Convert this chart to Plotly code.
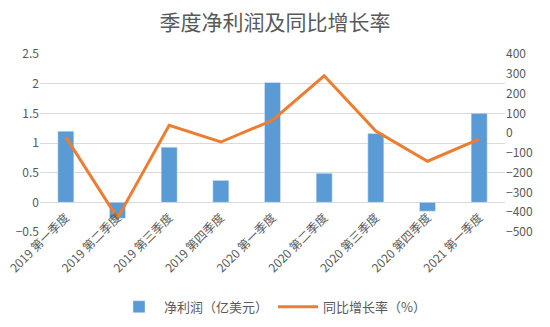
import plotly.graph_objects as go

categories = ["2019 第一季度", "2019 第二季度", "2019 第三季度", "2019 第四季度",
              "2020 第一季度", "2020 第二季度", "2020 第三季度", "2020 第四季度",
              "2021 第一季度"]
net_profit = [1.2, -0.27, 0.93, 0.37, 2.02, 0.49, 1.16, -0.15, 1.5]
yoy_growth = [-20, -430, 40, -45, 65, 290, 10, -142, -30]

FONT = "Noto Sans CJK SC, Microsoft YaHei, sans-serif"
GRAY = "#595959"
Y_MIN, Y_MAX = -0.5, 2.5

fig = go.Figure()
fig.add_trace(go.Bar(x=categories, y=net_profit, name="净利润（亿美元）",
                     marker_color="#5B9BD5", yaxis="y"))
fig.add_trace(go.Scatter(x=categories, y=yoy_growth, name="同比增长率（%）",
                         mode="lines", line=dict(color="#ED7D31", width=3),
                         yaxis="y2"))

fig.update_layout(
    width=550, height=327,
    margin=dict(l=40, r=45, t=54, b=95, autoexpand=False),
    paper_bgcolor="white", plot_bgcolor="white",
    font=dict(family=FONT, size=12, color=GRAY),
    title=dict(text="季度净利润及同比增长率", x=0.5, xanchor="center",
               y=0.93, yanchor="middle",
               font=dict(family=FONT, size=21, color=GRAY)),
    bargap=0.69,
    showlegend=True,
    legend=dict(orientation="h", x=0.5, xanchor="center", y=-0.42, yanchor="middle",
                itemwidth=40,
                font=dict(family=FONT, size=13, color=GRAY)),
    xaxis=dict(tickangle=-45, showgrid=False, showline=False, ticks="",
               anchor="free", position=(0 - Y_MIN) / (Y_MAX - Y_MIN),
               automargin=False, ticklabelstandoff=5,
               tickfont=dict(family=FONT, size=12, color=GRAY)),
    yaxis=dict(range=[Y_MIN, Y_MAX], dtick=0.5, showgrid=True, gridcolor="#D9D9D9",
               zeroline=False, tickfont=dict(size=12, color=GRAY), automargin=False,
               tickformat="~g", ticks="", showline=False),
    yaxis2=dict(range=[-500, 400], dtick=100, overlaying="y", side="right",
                showgrid=False, zeroline=False, tickfont=dict(size=12, color=GRAY),
                automargin=False, ticks="", showline=False),
)

fig.write_html("out.html")
